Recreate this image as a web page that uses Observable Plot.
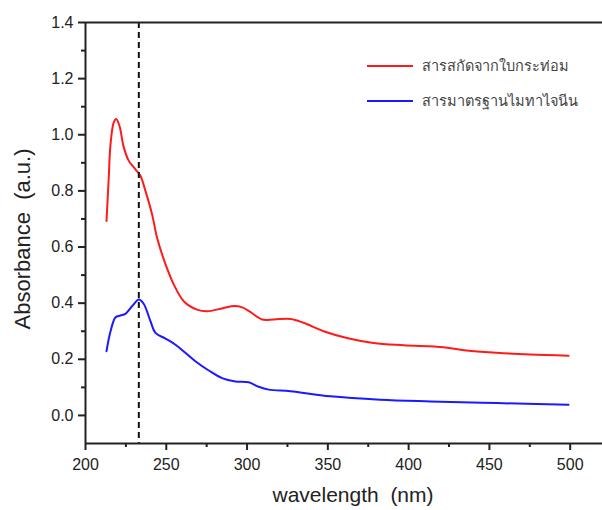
<!DOCTYPE html>
<html>
<head>
<meta charset="utf-8">
<script src="https://cdn.jsdelivr.net/npm/d3@7"></script>
<script src="https://cdn.jsdelivr.net/npm/@observablehq/plot@0.6"></script>
<style>
  html, body { margin: 0; padding: 0; background: #fff; }
  #wrap { position: relative; width: 602px; height: 510px; overflow: hidden; }
  #legend { position: absolute; left: 367px; top: 48px; font-family: "Noto Sans", "DejaVu Sans", sans-serif; font-size: 14.5px; color: #444; }
  .item { display: flex; align-items: center; height: 35px; }
  .sw { width: 46px; height: 2px; margin-right: 9px; }
</style>
</head>
<body>
<div id="wrap"><div id="legend"></div></div>
<script>
// Series names (legend)
const seriesNames = ["สารสกัดจากใบกระท่อม", "สารมาตรฐานไมทาไจนีน"];
const seriesColors = ["#ff1a1a", "#1a1aff"];

// Red series: extract of kratom leaves
const redWavelength = [213, 214.4, 215.5, 217.5, 219, 221, 223.7, 226.8, 230.9, 234, 237.1, 241.2, 244.3, 249.5, 254.6, 260.8, 269, 275.2, 285, 292, 297, 302, 309.3, 316.5, 327, 335, 347.4, 361.8, 378.3, 396.9, 421.6, 436, 454.6, 475.2, 499];
const redAbsorbance = [0.693, 0.848, 0.967, 1.044, 1.056, 1.032, 0.955, 0.907, 0.877, 0.854, 0.80, 0.717, 0.633, 0.539, 0.467, 0.407, 0.377, 0.371, 0.382, 0.390, 0.385, 0.369, 0.342, 0.342, 0.344, 0.330, 0.300, 0.276, 0.258, 0.250, 0.243, 0.231, 0.223, 0.217, 0.213];

// Blue series: mitragynine standard
const blueWavelength = [213, 215.5, 218.6, 221.6, 224.7, 228.8, 233, 236, 240.2, 243.3, 249.5, 255.7, 261.8, 268, 276.3, 284.5, 292.8, 301, 307.2, 313.4, 326.8, 351.5, 382.4, 413.4, 454.6, 499];
const blueAbsorbance = [0.229, 0.30, 0.35, 0.356, 0.362, 0.389, 0.413, 0.398, 0.336, 0.294, 0.274, 0.252, 0.223, 0.193, 0.16, 0.133, 0.121, 0.118, 0.102, 0.092, 0.086, 0.068, 0.056, 0.050, 0.044, 0.038];

// Reference wavelength (dashed line)
const markerWavelength = [233];

// Axes
const xDomain = [200, 520];
const yDomain = [-0.1, 1.4];
const xTicks = [200, 250, 300, 350, 400, 450, 500];
const xMinorTicks = [225, 275, 325, 375, 425, 475];
const yTicks = [0.0, 0.2, 0.4, 0.6, 0.8, 1.0, 1.2, 1.4];
const yMinorTicks = [0.1, 0.3, 0.5, 0.7, 0.9, 1.1, 1.3];
const xLabel = "wavelength\u00a0\u00a0(nm)";
const yLabel = "Absorbance\u00a0\u00a0(a.u.)";

const red = redWavelength.map((x, i) => ({x, y: redAbsorbance[i]}));
const blue = blueWavelength.map((x, i) => ({x, y: blueAbsorbance[i]}));

const W = 602, H = 510, mt = 22, mb = 67, ml = 85, mr = 0;
const innerW = W - ml - mr, innerH = H - mt - mb;
const axisColor = "#222";
const font = "'Liberation Sans', Arial, sans-serif";

// tick marks drawn as short rules just outside the frame
const tickX = (vals, len) => Plot.ruleX(vals, { stroke: axisColor, strokeWidth: 2, insetTop: innerH, insetBottom: -len });
const tickY = (vals, len) => Plot.ruleY(vals, { stroke: axisColor, strokeWidth: 2, insetRight: innerW, insetLeft: -len });

const chart = Plot.plot({
  width: W,
  height: H,
  marginTop: mt,
  marginBottom: mb,
  marginLeft: ml,
  marginRight: mr,
  style: { background: "transparent", fontFamily: font, color: "#222" },
  x: { domain: xDomain },
  y: { domain: yDomain },
  marks: [
    Plot.line(red, { x: "x", y: "y", stroke: seriesColors[0], strokeWidth: 2, curve: "catmull-rom" }),
    Plot.line(blue, { x: "x", y: "y", stroke: seriesColors[1], strokeWidth: 2, curve: "catmull-rom" }),
    Plot.ruleX(markerWavelength, { stroke: "#111", strokeWidth: 2, strokeDasharray: "6,4" }),
    Plot.ruleX([xDomain[0]], { stroke: axisColor, strokeWidth: 2 }),
    Plot.ruleY([yDomain[0]], { stroke: axisColor, strokeWidth: 2 }),
    Plot.ruleY([yDomain[1]], { stroke: axisColor, strokeWidth: 2 }),
    tickX(xTicks, 7),
    tickX(xMinorTicks, 4),
    tickY(yTicks, 7),
    tickY(yMinorTicks, 4),
    Plot.axisX(xTicks, { tickSize: 0, tickPadding: 15, fontSize: 16, label: null, tickFormat: d => String(d), fill: "#222" }),
    Plot.axisY(yTicks, { tickSize: 0, tickPadding: 12, fontSize: 16, label: null, tickFormat: d3.format(".1f"), fill: "#222" }),
    Plot.text([xLabel], { frameAnchor: "bottom", dy: 58, dx: 9, fontSize: 21, fill: "#222", fontFamily: font }),
    Plot.text([yLabel], { frameAnchor: "left", textAnchor: "middle", dx: -63, dy: 6, rotate: -90, fontSize: 22, fill: "#222", fontFamily: font })
  ]
});

const wrap = document.getElementById("wrap");
wrap.insertBefore(chart, wrap.firstChild);

const legend = document.getElementById("legend");
seriesNames.forEach((name, i) => {
  const item = document.createElement("div");
  item.className = "item";
  const sw = document.createElement("div");
  sw.className = "sw";
  sw.style.background = seriesColors[i];
  const t = document.createElement("span");
  t.textContent = name;
  item.appendChild(sw);
  item.appendChild(t);
  legend.appendChild(item);
});
</script>
</body>
</html>
